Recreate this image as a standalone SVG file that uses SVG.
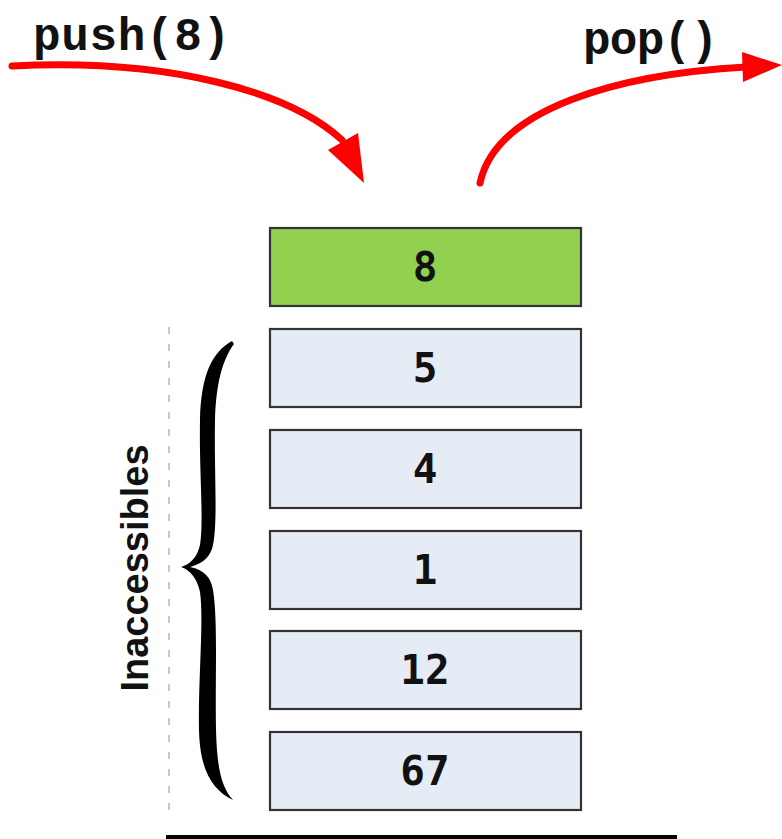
<svg xmlns="http://www.w3.org/2000/svg" width="782" height="839" viewBox="0 0 782 839">
<style>
.box{stroke:#333;stroke-width:2.2}
.top{fill:#92D050}
.low{fill:#E6ECF6}
.num{font-family:"DejaVu Sans Mono",monospace;font-weight:bold;font-size:41px;fill:#111;text-anchor:middle}
.op{font-family:"Liberation Mono","Courier New",monospace;font-weight:bold;font-size:46px;fill:#111}
.arr{fill:none;stroke:#F00;stroke-width:7;stroke-linecap:round}
.head{fill:#F00}
</style>
<rect width="782" height="839" fill="#fff"/>
<g id="label-push"><text class="op" x="33" y="50" textLength="197" lengthAdjust="spacing">push(8)</text></g>
<g id="label-pop"><text class="op" x="583" y="54" textLength="135" lengthAdjust="spacing">pop()</text></g>
<g id="connectors">
<path class="arr" d="M12,66 C170,58 290,92 342,140"/>
<polygon class="head" points="328,150 358,133 364,183"/>
<path class="arr" d="M480,183 C496,108 620,74 746,67"/>
<polygon class="head" points="742,52 782,65 743,82"/>
</g>
<g id="node-8"><rect class="box top" x="270" y="228" width="311" height="78"/><text class="num" x="425" y="281">8</text></g>
<g id="node-5"><rect class="box low" x="270" y="329" width="311" height="78"/><text class="num" x="425" y="382">5</text></g>
<g id="node-4"><rect class="box low" x="270" y="430" width="311" height="78"/><text class="num" x="425" y="483">4</text></g>
<g id="node-1"><rect class="box low" x="270" y="531" width="311" height="78"/><text class="num" x="425" y="584">1</text></g>
<g id="node-12"><rect class="box low" x="270" y="631" width="311" height="78"/><text class="num" x="425" y="684">12</text></g>
<g id="node-67"><rect class="box low" x="270" y="732" width="311" height="78"/><text class="num" x="425" y="785">67</text></g>
<g id="brace">
<line x1="169" y1="327" x2="169" y2="818" stroke="#c8c8c8" stroke-width="2" stroke-dasharray="7 10"/>
<path fill="#000" d="M232,341 C212,352 201,375 200,420 C199,470 204,520 200,545 C197,558 190,564 181,567 C190,570 197,578 200,592 C204,620 198,680 199,730 C200,770 212,790 233,800 C222,788 217,770 216,730 C215,680 218,620 213,590 C211,578 205,570 190,567 C205,563 211,555 213,545 C218,520 214,470 215,420 C216,385 222,360 234,344 Z"/>
<text transform="translate(148,568) rotate(-90)" text-anchor="middle" font-family="'Liberation Sans',Arial,sans-serif" font-weight="bold" font-size="38" fill="#111">Inaccessibles</text>
</g>
<rect id="base" x="166" y="835" width="511" height="6" fill="#000"/>
</svg>
